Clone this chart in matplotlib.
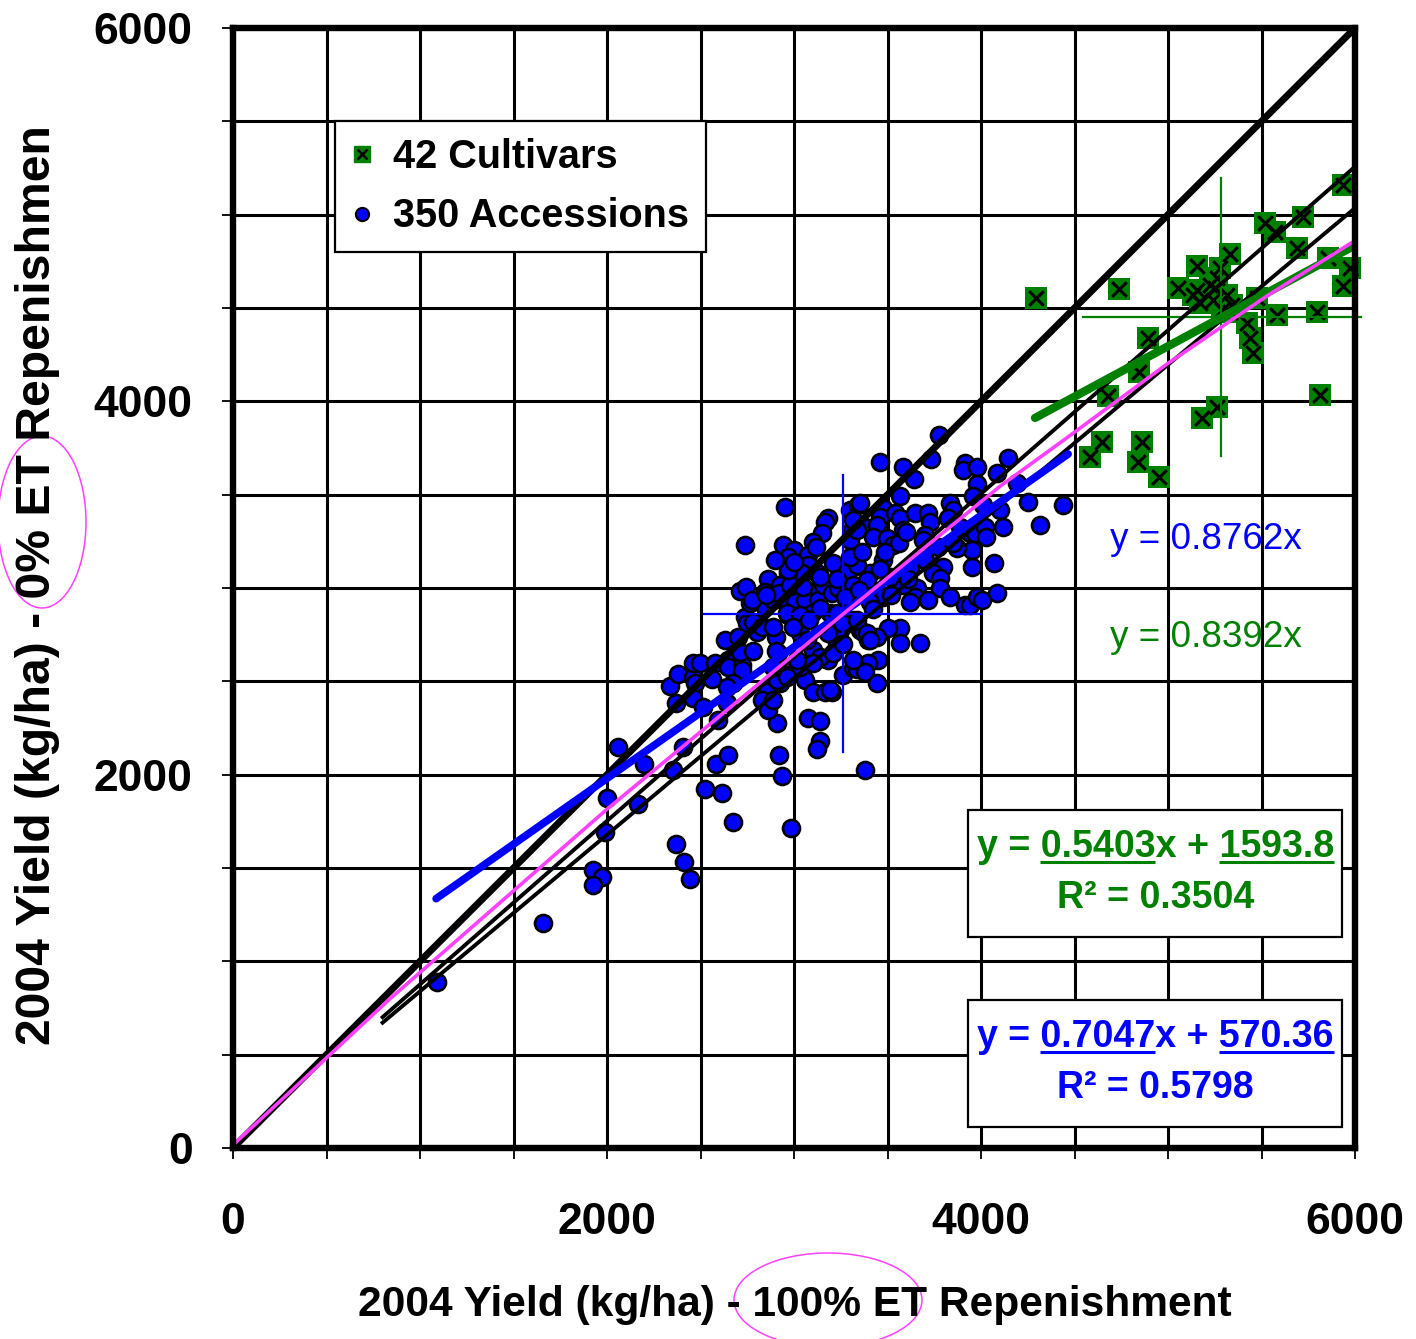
import matplotlib
matplotlib.use('Agg')
import matplotlib.pyplot as plt
from matplotlib.lines import Line2D
from matplotlib.patches import Rectangle, Ellipse
from matplotlib.ticker import MultipleLocator

plt.rcParams['font.family'] = ['Liberation Sans', 'DejaVu Sans']

GREEN = '#008000'
BLUE = '#0000FF'
PINK = '#FF40FF'

# yield (kg/ha): x = 100% ET, y = 0% ET
cult_x = [4294, 4738, 5936, 5519, 5573, 5723, 5690, 5856, 5974, 5936,
          5332, 5155, 5278, 5054, 5155, 5171, 5241, 5316, 5289, 5476,
          5583, 5797, 5423, 5439, 5455, 4893, 4845, 4680, 5813, 5262,
          5182, 4647, 4583, 4861, 4840, 4952, 5225, 5252, 5343, 5332,
          5134, 5262]
cult_y = [4553, 4602, 5159, 4955, 4907, 4987, 4821, 4768, 4714, 4618,
          4789, 4725, 4714, 4607, 4596, 4527, 4543, 4570, 4489, 4553,
          4462, 4478, 4420, 4339, 4259, 4339, 4157, 4028, 4034, 3970,
          3911, 3782, 3702, 3782, 3675, 3595, 4623, 4607, 4516, 4478,
          4570, 4661]

acc_x = [1091, 1658, 1925, 1973, 1925, 2000, 1989, 2059, 2198, 2166,
         2353, 2407, 2369, 2412, 2444, 2524, 2615, 2674, 2583, 2647,
         2594, 2909, 2920, 2936, 2984, 3075, 3139, 3139, 3123, 2337,
         2380, 2369, 2460, 2471, 2460, 2460, 2497, 2578, 2647, 2647,
         2722, 2722, 2674, 2642, 2642, 2856, 2829, 2861, 2888, 2925,
         2968, 3016, 3059, 3102, 3166, 3102, 2915, 2711, 2631, 2514,
         2738, 2802, 2749, 2845, 2904, 2904, 2909, 3203, 3032, 3102,
         3150, 3182, 3230, 3262, 3316, 3300, 3246, 3353, 2995, 2765,
         2888, 2952, 2738, 2941, 3000, 2968, 3182, 3166, 3150, 3102,
         3075, 3075, 3209, 3123, 3043, 2968, 2861, 2711, 2744, 2776,
         2845, 2925, 2920, 2979, 2968, 3005, 3075, 3059, 3129, 3155,
         3203, 3235, 3300, 3343, 3310, 3300, 3316, 3284, 2968, 3096,
         3316, 3193, 3776, 3460, 3583, 3733, 3642, 3567, 3915, 3904,
         3979, 3979, 4145, 4086, 4193, 3958, 4011, 4252, 4439, 4316,
         4118, 4102, 3353, 3476, 3460, 3540, 3567, 3647, 3717, 3728,
         3834, 3851, 3824, 3583, 3380, 3444, 3423, 3498, 3530, 3337,
         3316, 3701, 3690, 3888, 3941, 3968, 4022, 4027, 3952, 3872,
         3770, 3952, 4070, 3797, 3744, 3781, 3781, 3658, 3583, 3514,
         3407, 3337, 3300, 3364, 3476, 3621, 3647, 3717, 3834, 3915,
         3941, 3979, 4006, 4086, 3621, 3476, 3407, 3337, 3391, 3487,
         3567, 3567, 3674, 3503, 3444, 3396, 3449, 3396, 3337, 3380,
         3444, 3380, 3316, 3369, 2781, 2829, 2888, 2963, 3032, 3139,
         3048, 3139, 3273, 3230, 3257, 3337, 3391, 3407, 3193, 3032,
         2888, 2963, 3070, 3139, 3209, 3102, 3316, 3016, 2968, 2850,
         2995, 3080, 3180, 3260, 3420, 3520, 3610, 3700, 3850, 3000,
         3120, 3230, 3350, 3460, 3560, 2700, 2780, 2560, 2900, 3600]
acc_y = [889, 1205, 1489, 1452, 1409, 1875, 1693, 2148, 2057, 1843,
         2025, 2148, 1629, 1532, 1441, 1923, 1902, 1746, 2057, 2105,
         2293, 2277, 2105, 1993, 1714, 2304, 2287, 2180, 2137, 2475,
         2539, 2384, 2523, 2491, 2411, 2598, 2598, 2598, 2614, 2577,
         2587, 2561, 2491, 2470, 2384, 2443, 2400, 2346, 2400, 2491,
         2534, 2571, 2507, 2443, 2443, 2614, 2652, 2657, 2721, 2362,
         2845, 2764, 2812, 2898, 2737, 2662, 2507, 2443, 2759, 2668,
         2625, 2614, 2705, 2534, 2571, 2828, 2775, 2775, 2898, 2920,
         2936, 3434, 3230, 3230, 3203, 3166, 3375, 3353, 3295, 3246,
         3177, 3123, 3134, 3080, 3080, 3080, 3048, 2984, 3005, 2936,
         2978, 3016, 2973, 3016, 2909, 2925, 2984, 2936, 2936, 3016,
         2973, 3000, 3418, 3445, 3311, 3257, 3112, 3086, 2855, 2866,
         3016, 2866, 3820, 3675, 3648, 3691, 3584, 3493, 3670, 3632,
         3648, 3557, 3696, 3616, 3562, 3493, 3445, 3461, 3445, 3337,
         3327, 3418, 3455, 3428, 3380, 3402, 3375, 3402, 3402, 3353,
         3455, 3418, 3375, 3311, 3327, 3337, 3273, 3268, 3230, 3311,
         3364, 3284, 3257, 3327, 3295, 3295, 3327, 3273, 3203, 3214,
         3220, 3112, 3134, 3112, 3080, 3053, 3000, 3000, 3016, 3059,
         3080, 3123, 3166, 3193, 3150, 3107, 2952, 2936, 2952, 2909,
         2909, 2952, 2936, 2973, 2925, 2952, 2925, 2973, 3043, 3193,
         2786, 2705, 2705, 2786, 2737, 2721, 2614, 2598, 2566, 2550,
         2491, 2025, 2828, 2764, 2818, 2791, 2791, 2866, 2855, 2893,
         3005, 3059, 2952, 2866, 2812, 2828, 2759, 2721, 2454, 2577,
         2577, 2523, 2721, 2630, 2652, 2598, 2614, 2614, 3096, 2960,
         2790, 2830, 2760, 2700, 2890, 2960, 3050, 3150, 3240, 3140,
         3220, 3050, 2990, 3100, 3240, 2740, 2660, 2510, 3150, 3300]

# linear fits: slope, intercept, r2, x range of the drawn segment
cult_fit = [0.5403, 1593.8, 0.3504]
cult_fit_x = [4289, 6000]
acc_fit = [0.7047, 570.36, 0.5798]
acc_fit_x = [1086, 4466]

# fits forced through the origin
origin_slopes = [0.8762, 0.8392]
origin_colors = [BLUE, GREEN]
origin_fit_x = [800, 6000]

# smoothed trend over all entries
trend_x = [0, 840, 2000, 3262, 4102, 4460, 4995, 5530, 5979]
trend_y = [16, 800, 1815, 2860, 3545, 3805, 4200, 4565, 4848]

# means with +/- one SD
acc_mean = [3262, 2861]
acc_sd_x = [2520, 3998]
acc_sd_y = [2121, 3605]
cult_mean = [5284, 4453]
cult_sd_x = [4544, 6030]
cult_sd_y = [3707, 5196]

W, H = 1416, 1339
fig = plt.figure(figsize=(W / 100, H / 100), dpi=100)
ax = fig.add_axes([233 / W, 1 - 1148 / H, 1122 / W, 1120 / H])
ax.set_xlim(0, 6000)
ax.set_ylim(0, 6000)
for axis in (ax.xaxis, ax.yaxis):
    axis.set_major_locator(MultipleLocator(2000))
    axis.set_minor_locator(MultipleLocator(500))
ax.grid(which='both', color='black', lw=2.2)
ax.set_axisbelow(True)
for sp in ax.spines.values():
    sp.set_linewidth(4.6)
    sp.set_zorder(5)
ax.tick_params(which='both', direction='out', length=8, width=1.3, color='black')
ax.tick_params(axis='x', which='major', pad=31, labelsize=32)
ax.tick_params(axis='y', which='major', pad=21, labelsize=32)
for lab in ax.get_xticklabels() + ax.get_yticklabels():
    lab.set_fontweight('bold')

# points
ax.scatter(acc_x, acc_y, s=150, c=BLUE, edgecolors='black', linewidths=1.9,
           zorder=3, clip_on=False)
ax.scatter(cult_x, cult_y, s=270, marker='s', c=GREEN, linewidths=0,
           zorder=3, clip_on=False)
ax.scatter(cult_x, cult_y, s=110, marker='x', c='black', linewidths=2.2,
           zorder=3.1, clip_on=False)

# mean +/- SD crosses
ax.plot([acc_mean[0]] * 2, acc_sd_y, color=BLUE, lw=1.6, zorder=3.5)
ax.plot(acc_sd_x, [acc_mean[1]] * 2, color=BLUE, lw=1.6, zorder=3.5)
ax.plot([cult_mean[0]] * 2, cult_sd_y, color=GREEN, lw=1.6, zorder=3.5, clip_on=False)
ax.plot(cult_sd_x, [cult_mean[1]] * 2, color=GREEN, lw=1.6, zorder=3.5, clip_on=False)

# 1:1 line and fits
ax.plot([0, 6000], [0, 6000], color='black', lw=5, zorder=4)
for k in origin_slopes:
    ax.plot(origin_fit_x, [k * x for x in origin_fit_x], color='black', lw=2.8, zorder=4)
ax.plot(trend_x, trend_y, color=PINK, lw=2.6, zorder=4.2, clip_on=False)
ax.plot(acc_fit_x, [acc_fit[0] * x + acc_fit[1] for x in acc_fit_x], color=BLUE,
        lw=5.5, solid_capstyle='round', zorder=4.1)
ax.plot(cult_fit_x, [cult_fit[0] * x + cult_fit[1] for x in cult_fit_x], color=GREEN,
        lw=6, solid_capstyle='round', zorder=4.1)

# through-origin equations
origin_text = []
for k, col, ty in zip(origin_slopes, origin_colors, [0.543, 0.456]):
    t = ax.text(0.867, ty, f'y = {k:.4f}x', transform=ax.transAxes, color=col,
                ha='center', va='center', fontsize=26, zorder=6)
    origin_text.append(t)

# boxed regression equations
eq_lines = []
for fit, col, (y0, y1), (b1, b2) in [
        (cult_fit, GREEN, (0.1884, 0.3018), (0.2598, 0.2143)),
        (acc_fit, BLUE, (0.01875, 0.1321), (0.0902, 0.0446))]:
    ax.add_patch(Rectangle((0.655, y0), 0.333, y1 - y0, transform=ax.transAxes,
                           fc='white', ec='black', lw=1.6, zorder=6))
    a_txt = f'{fit[0]:.4f}'
    b_txt = f'{fit[1]:g}'
    t1 = ax.text(0.822, b1, f'y = {a_txt}x + {b_txt}', transform=ax.transAxes,
                 color=col, ha='center', va='baseline', fontsize=27,
                 fontweight='bold', zorder=7)
    t2 = ax.text(0.822, b2, f'R\u00b2 = {fit[2]:.4f}', transform=ax.transAxes,
                 color=col, ha='center', va='baseline', fontsize=27,
                 fontweight='bold', zorder=7)
    eq_lines.append((t1, t2, [a_txt, b_txt], col))

# legend
h_cult = (Line2D([], [], ls='none', marker='s', ms=11, mfc=GREEN, mec=GREEN),
          Line2D([], [], ls='none', marker='x', ms=7, mec='black', mew=1.8))
h_acc = Line2D([], [], ls='none', marker='o', ms=9.5, mfc=BLUE, mec='black', mew=1.5)
leg = ax.legend([h_cult, h_acc], ['42 Cultivars', '350 Accessions'],
                loc='upper left', bbox_to_anchor=(0.0909, 0.917), borderaxespad=0,
                fancybox=False, edgecolor='black', framealpha=1,
                prop=dict(weight='bold', size=28.5), handlelength=0.5,
                handletextpad=0.55, labelspacing=0.55, borderpad=0.42)
leg.get_frame().set_linewidth(1.6)
leg.set_zorder(8)

# axis titles
xlab = fig.text(795 / W, 1 - 1305 / H, '2004 Yield (kg/ha) - 100% ET Repenishment',
                ha='center', va='center', fontsize=30, fontweight='bold')
ylab = fig.text(38 / W, 1 - 585 / H, '2004 Yield (kg/ha) - 0% ET Repenishmen',
                ha='center', va='center', rotation=90, fontsize=30, fontweight='bold')

# hand-drawn circles around the ET levels
for cx, cy, ew, eh in [(42, 522, 88, 172), (828, 1300, 188, 94)]:
    fig.add_artist(Ellipse((cx / W, 1 - cy / H), ew / W, eh / H,
                           transform=fig.transFigure, fill=False, ec=PINK, lw=1.1))

# size the texts to their target widths
renderer = fig.canvas.get_renderer()


def fit_size(t, target, use_height=False):
    bb = t.get_window_extent(renderer)
    cur = bb.height if use_height else bb.width
    t.set_fontsize(t.get_fontsize() * target / cur)


fit_size(xlab, 874)
fit_size(ylab, 920, use_height=True)
for t in origin_text:
    fit_size(t, 192)
for t1, t2, _, _ in eq_lines:
    fit_size(t1, 357)
    t2.set_fontsize(t1.get_fontsize())

# underline the coefficients
inv = ax.transAxes.inverted()
for t1, _, parts, col in eq_lines:
    s = t1.get_text()
    prop = t1.get_fontproperties()
    bb = t1.get_window_extent(renderer)
    base = ax.transAxes.transform(t1.get_position())[1]
    for p in parts:
        i = s.index(p)
        w_end = renderer.get_text_width_height_descent(s[:i + len(p)], prop, ismath=False)[0]
        w_p = renderer.get_text_width_height_descent(p, prop, ismath=False)[0]
        x1 = bb.x0 + w_end
        x0 = x1 - w_p
        (ax0, ay), (ax1, _) = inv.transform([(x0, base - 5), (x1, base - 5)])
        ax.plot([ax0, ax1], [ay, ay], transform=ax.transAxes, color=col, lw=2.2,
                zorder=7, clip_on=False, solid_capstyle='butt')

fig.savefig('out.png', dpi=100)
